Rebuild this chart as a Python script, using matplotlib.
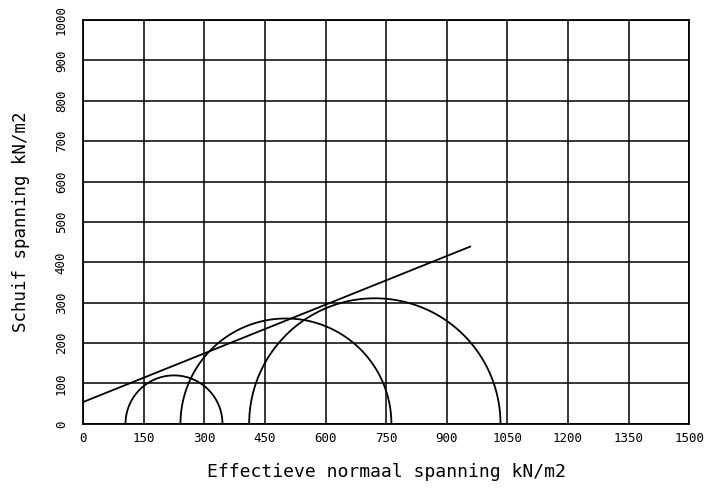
import numpy as np
import matplotlib.pyplot as plt

# Mohr circles (centre, radius) in kN/m2
centres = [225, 502, 722]
radii = [120, 261, 311]

# failure envelope end points
env_x = [0, 958]
env_y = [54, 439]

x_ticks = [0, 150, 300, 450, 600, 750, 900, 1050, 1200, 1350, 1500]
y_ticks = [0, 100, 200, 300, 400, 500, 600, 700, 800, 900, 1000]

font = 'DejaVu Sans Mono'

fig = plt.figure(figsize=(7.04, 4.90), dpi=100)
ax = fig.add_axes([0.118, 0.135, 0.861, 0.824])

theta = np.linspace(0, np.pi, 300)
for c, r in zip(centres, radii):
    ax.plot(c + r * np.cos(theta), r * np.sin(theta), color='black', lw=1.3)

ax.plot(env_x, env_y, color='black', lw=1.3)

ax.set_xlim(0, 1500)
ax.set_ylim(0, 1000)
ax.set_xticks(x_ticks)
ax.set_yticks(y_ticks)
ax.set_xticklabels([str(t) for t in x_ticks], fontsize=9, family=font)
ax.set_yticklabels([str(t) for t in y_ticks], fontsize=9, family=font,
                   rotation=90, va='center')
ax.tick_params(length=0)
ax.tick_params(axis='x', pad=6)
ax.tick_params(axis='y', pad=11)
ax.grid(True, color='black', lw=1.1)
for s in ax.spines.values():
    s.set_linewidth(1.3)

ax.set_xlabel('Effectieve normaal spanning kN/m2', fontsize=13, family=font,
              labelpad=13)
ax.set_ylabel('Schuif spanning kN/m2', fontsize=12.5, family=font, labelpad=18)

fig.savefig('out.png', dpi=100)
